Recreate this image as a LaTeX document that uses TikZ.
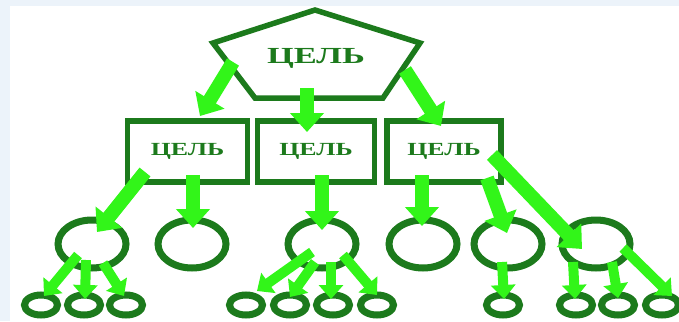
\documentclass[tikz,border=0pt]{standalone}
\usepackage{fontspec}
\setmainfont{Liberation Serif}
\usetikzlibrary{arrows.meta,shapes.geometric}
\definecolor{dkgreen}{RGB}{28,122,28}
\definecolor{ltgreen}{RGB}{50,245,25}
\definecolor{bgblue}{RGB}{236,243,250}
\tikzset{
  outl/.style={draw=dkgreen,line width=5.5pt},
  box/.style={outl,rectangle,minimum height=61pt,inner sep=0pt,text=dkgreen,font=\bfseries\fontsize{18.5}{18.5}\selectfont},
  bigell/.style={draw=dkgreen,line width=7pt,ellipse,minimum width=68pt,minimum height=48pt,inner sep=0pt},
  smell/.style={draw=dkgreen,line width=7pt,ellipse,minimum width=33pt,minimum height=20pt,inner sep=0pt},
  bigarr/.style={draw=ltgreen,line width=14pt,-{Triangle[width=33pt,length=19pt]}},
  smarr/.style={draw=ltgreen,line width=10pt,-{Triangle[width=24pt,length=14pt]}},
}
\begin{document}
\begin{tikzpicture}[x=1pt,y=-1pt]
\useasboundingbox (0,0) rectangle (679,321);
\fill[bgblue] (0,0) rectangle (679,321);
\fill[white] (10,6) rectangle (679,321);
% pentagon
\coordinate (pa) at (315,10);
\coordinate (pl) at (213,43);
\coordinate (pr) at (420,43);
\coordinate (pbl) at (255,98);
\coordinate (pbr) at (383,98);
\draw[outl,line join=miter] (pa) -- (pr) -- (pbr) -- (pbl) -- (pl) -- cycle;
\node[text=dkgreen,font=\bfseries\fontsize{23}{23}\selectfont] (P) at (316,58) {\scalebox{1.5}[1]{ЦЕЛЬ}};
% boxes
\node[box,minimum width=120pt] (B1) at (187.5,151.5) {\scalebox{1.4}[1]{ЦЕЛЬ}};
\node[box,minimum width=117pt] (B2) at (316,151.5) {\scalebox{1.4}[1]{ЦЕЛЬ}};
\node[box,minimum width=114pt] (B3) at (444,151.5) {\scalebox{1.4}[1]{ЦЕЛЬ}};
% big ellipses
\node[bigell] (C1) at (92,244) {};
\node[bigell] (C2) at (192,244) {};
\node[bigell] (C3) at (322,244) {};
\node[bigell] (C4) at (423,244) {};
\node[bigell] (C5) at (508,244) {};
\node[bigell] (C6) at (596,244) {};
% small ellipses
\node[smell] (S1) at (41,305) {};
\node[smell] (S2) at (84,305) {};
\node[smell] (S3) at (126,305) {};
\node[smell] (S4) at (246,305) {};
\node[smell] (S5) at (290,305) {};
\node[smell] (S6) at (333,305) {};
\node[smell] (S7) at (377,305) {};
\node[smell] (S8) at (503,305) {};
\node[smell] (S9) at (576,305) {};
\node[smell] (S10) at (618,305) {};
\node[smell] (S11) at (662,305) {};
% big arrows
\draw[bigarr] ([shift={(-83,4)}]P.center) -- ([shift={(12.5,-35.5)}]B1.center);
\draw[bigarr] ([shift={(-9,30)}]P.center) -- ([shift={(-9,-19.5)}]B2.center);
\draw[bigarr] ([shift={(89,12)}]P.center) -- ([shift={(-3,-25.5)}]B3.center);
\draw[bigarr] ([shift={(-42.5,20.5)}]B1.center) -- ([shift={(5,-12)}]C1.center);
\draw[bigarr] ([shift={(5.5,23.5)}]B1.center) -- ([shift={(1,-16)}]C2.center);
\draw[bigarr] ([shift={(6,23.5)}]B2.center) -- ([shift={(0,-14)}]C3.center);
\draw[bigarr] ([shift={(-22,23.5)}]B3.center) -- ([shift={(-1,-18)}]C4.center);
\draw[bigarr] ([shift={(43,26.5)}]B3.center) -- ([shift={(-1,-11)}]C5.center);
\draw[bigarr] ([shift={(48,3.5)}]B3.center) -- ([shift={(-14,5)}]C6.center);
% small arrows
\draw[smarr] ([shift={(-14,11)}]C1.center) -- ([shift={(3,-9)}]S1.center);
\draw[smarr] ([shift={(-6,16)}]C1.center) -- ([shift={(1,-6)}]S2.center);
\draw[smarr] ([shift={(11,19)}]C1.center) -- ([shift={(-2,-9)}]S3.center);
\draw[smarr] ([shift={(-10,8)}]C3.center) -- ([shift={(11,-14)}]S4.center);
\draw[smarr] ([shift={(-7,18)}]C3.center) -- ([shift={(0,-8)}]S5.center);
\draw[smarr] ([shift={(9,18)}]C3.center) -- ([shift={(-2,-6)}]S6.center);
\draw[smarr] ([shift={(21,11)}]C3.center) -- ([shift={(0,-10)}]S7.center);
\draw[smarr] ([shift={(-6,18)}]C5.center) -- ([shift={(1,-6)}]S8.center);
\draw[smarr] ([shift={(-23,18)}]C6.center) -- ([shift={(-1,-6)}]S9.center);
\draw[smarr] ([shift={(16,18)}]C6.center) -- ([shift={(0,-7)}]S10.center);
\draw[smarr] ([shift={(27,4)}]C6.center) -- ([shift={(10,-9)}]S11.center);
\end{tikzpicture}
\end{document}
